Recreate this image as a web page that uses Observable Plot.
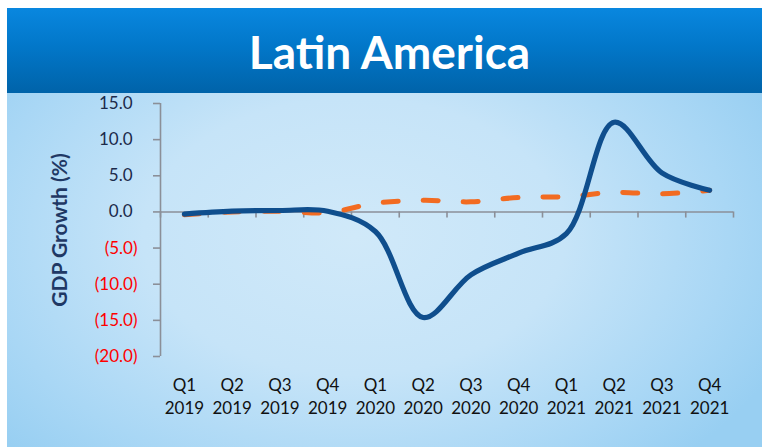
<!DOCTYPE html>
<html>
<head>
<meta charset="utf-8">
<script src="https://cdn.jsdelivr.net/npm/d3@7"></script>
<script src="https://cdn.jsdelivr.net/npm/@observablehq/plot@0.6"></script>
<style>
  html, body { margin: 0; padding: 0; background: #ffffff; }
  #wrap { position: relative; width: 762px; height: 447px; overflow: hidden; background: #fff; }
  #panel {
    position: absolute; left: 7px; top: 8px; width: 755px; height: 439px;
    background: radial-gradient(ellipse 62% 70% at 46% 52%, #d0e9f9 0%, #c6e4f8 45%, #a9d7f5 80%, #98cff2 100%);
  }
  #title {
    position: absolute; left: 0; top: 0; width: 755px; height: 85px;
    background: linear-gradient(to bottom, #0987df 0%, #0277c9 45%, #0063a9 100%);
    color: #fff; font-family: Lato, sans-serif; font-weight: 700; font-size: 46px;
    display: flex; align-items: center; justify-content: center;
  }
  #title span { position: relative; left: 5px; top: 1px; }
  #chart { position: absolute; left: 0; top: 85px; }
</style>
</head>
<body>
<div id="wrap">
  <div id="panel">
    <div id="title"><span>Latin America</span></div>
    <div id="chart"></div>
  </div>
</div>
<script>
const quarters = ["Q1","Q2","Q3","Q4","Q1","Q2","Q3","Q4","Q1","Q2","Q3","Q4"];
const years = ["2019","2019","2019","2019","2020","2020","2020","2020","2021","2021","2021","2021"];
const actual = [-0.3, 0.1, 0.2, 0.1, -2.7, -14.6, -8.7, -5.7, -3.0, 12.4, 5.4, 3.0];
const trend = [-0.4, 0.0, 0.1, -0.1, 1.2, 1.6, 1.4, 2.0, 2.1, 2.7, 2.5, 3.0];
const yTicksPos = [0, 5, 10, 15];
const yTicksNeg = [-20, -15, -10, -5];
const yLabel = "GDP Growth (%)";

const actualData = actual.map((v, i) => ({x: i + 0.5, y: v}));
const trendData = trend.map((v, i) => ({x: i + 0.5, y: v}));
const centers = quarters.map((q, i) => i + 0.5);
const bounds = d3.range(quarters.length + 1);

const axisGray = "#8b8f98";

const chart = Plot.plot({
  width: 755,
  height: 354,
  marginLeft: 153,
  marginRight: 29,
  marginTop: 10,
  marginBottom: 91,
  style: {background: "transparent", fontFamily: "Lato, sans-serif", overflow: "visible"},
  x: {domain: [0, quarters.length]},
  y: {domain: [-20, 15]},
  marks: [
    Plot.ruleX([0], {stroke: axisGray, strokeWidth: 1.6}),
    Plot.ruleY([0], {stroke: axisGray, strokeWidth: 1.6}),
    Plot.ruleX(bounds, {x: d => d, y1: 0, y2: -0.85, stroke: axisGray, strokeWidth: 1.6}),
    Plot.axisY({ticks: yTicksPos, tickFormat: d => d.toFixed(1), tickSize: 7, tickPadding: 21,
      stroke: axisGray, strokeWidth: 1.6, fill: "#1c2a4a", fontSize: 17, label: null}),
    Plot.axisY({ticks: yTicksNeg, tickFormat: d => "(" + Math.abs(d).toFixed(1) + ")", tickSize: 7, tickPadding: 16,
      stroke: axisGray, strokeWidth: 1.6, fill: "#ff0000", fontSize: 17, label: null}),
    Plot.axisX({ticks: centers, tickFormat: d => quarters[Math.round(d - 0.5)] + "\n" + years[Math.round(d - 0.5)],
      tickSize: 0, tickPadding: 18, fontSize: 17, lineHeight: 1.36, fill: "#111111", label: null}),
    Plot.text([yLabel], {frameAnchor: "left", rotate: -90, dx: -100, text: d => d,
      fontSize: 21, fontWeight: "bold", fill: "#1f3864", textAnchor: "middle", lineAnchor: "middle"}),
    Plot.line(trendData, {x: "x", y: "y", curve: "catmull-rom", stroke: "#f26b21", strokeWidth: 5,
      strokeDasharray: "15,25", strokeLinecap: "round"}),
    Plot.line(actualData, {x: "x", y: "y", curve: "catmull-rom", stroke: "#0f4e8d", strokeWidth: 5.2,
      strokeLinecap: "round", strokeLinejoin: "round"})
  ]
});
document.getElementById("chart").appendChild(chart);
</script>
</body>
</html>
